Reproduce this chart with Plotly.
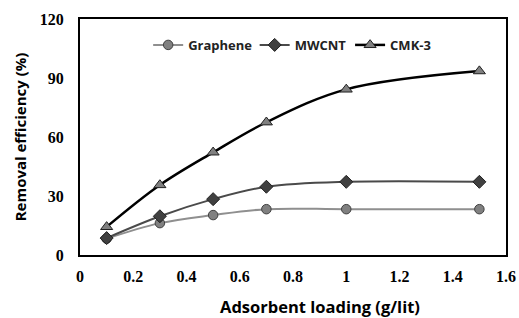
import plotly.graph_objects as go

x_vals = [0.1, 0.3, 0.5, 0.7, 1.0, 1.5]
graphene = [8.3, 16.2, 20.3, 23.3, 23.3, 23.3]
mwcnt = [8.6, 19.7, 28.4, 34.7, 37.2, 37.2]
cmk3 = [14.3, 35.6, 52.2, 67.5, 84.2, 93.5]
x_ticks = [0, 0.2, 0.4, 0.6, 0.8, 1, 1.2, 1.4, 1.6]
x_tick_labels = ["0", "0.2", "0.4", "0.6", "0.8", "1", "1.2", "1.4", "1.6"]
y_ticks = [0, 30, 60, 90, 120]
x_title = "Adsorbent loading (g/lit)"
y_title = "Removal efficiency (%)"

fig = go.Figure()
fig.add_trace(go.Scatter(
    x=x_vals, y=graphene, name="Graphene", mode="lines+markers", legend="legend",
    line=dict(color="#8f8f8f", width=2, shape="spline"),
    marker=dict(symbol="circle", size=9.5, color="#808080", line=dict(color="#404040", width=1))))
fig.add_trace(go.Scatter(
    x=x_vals, y=mwcnt, name="MWCNT", mode="lines+markers", legend="legend2",
    line=dict(color="#4a4a4a", width=2, shape="spline"),
    marker=dict(symbol="diamond", size=10, color="#404040", line=dict(color="#202020", width=1))))
fig.add_trace(go.Scatter(
    x=x_vals, y=cmk3, name="CMK-3", mode="lines+markers", legend="legend3",
    line=dict(color="#000000", width=2.5, shape="spline"),
    marker=dict(symbol="triangle-up", size=10.5, color="#808080", line=dict(color="#202020", width=1))))

leg_common = dict(orientation="h", y=0.89, yanchor="middle", xanchor="left",
                  font=dict(family="Open Sans", size=13, color="#222", weight="bold"),
                  bgcolor="rgba(0,0,0,0)", itemwidth=30)

fig.update_layout(
    width=519, height=318,
    margin=dict(l=80, r=13, t=19, b=63, autoexpand=False),
    paper_bgcolor="white", plot_bgcolor="white",
    showlegend=True,
    legend=dict(x=0.160, **leg_common),
    legend2=dict(x=0.410, **leg_common),
    legend3=dict(x=0.634, **leg_common),
    xaxis=dict(range=[0, 1.6], tickvals=x_ticks, ticktext=x_tick_labels, automargin=False,
               showgrid=False, zeroline=False, showline=True, linecolor="black", linewidth=2,
               mirror=True, ticks="", ticklabelstandoff=6,
               tickfont=dict(family="Liberation Serif", size=16, color="black", weight="bold")),
    yaxis=dict(range=[0, 120], tickvals=y_ticks, automargin=False,
               showgrid=False, zeroline=False, showline=True, linecolor="black", linewidth=2,
               mirror=True, ticks="", ticklabelstandoff=11,
               tickfont=dict(family="Liberation Serif", size=16, color="black", weight="bold"),
               title=dict(text="<b>" + y_title + "</b>", standoff=10,
                          font=dict(family="Open Sans", size=15, color="black"))),
    annotations=[dict(text="<b>" + x_title + "</b>", xref="paper", yref="paper",
                      x=0.563, y=-0.218, xanchor="center", yanchor="middle", showarrow=False,
                      font=dict(family="Open Sans", size=16.5, color="black"))],
)

fig.write_html("out.html", config={"displayModeBar": False},
               post_script="document.body.style.margin='0';")
